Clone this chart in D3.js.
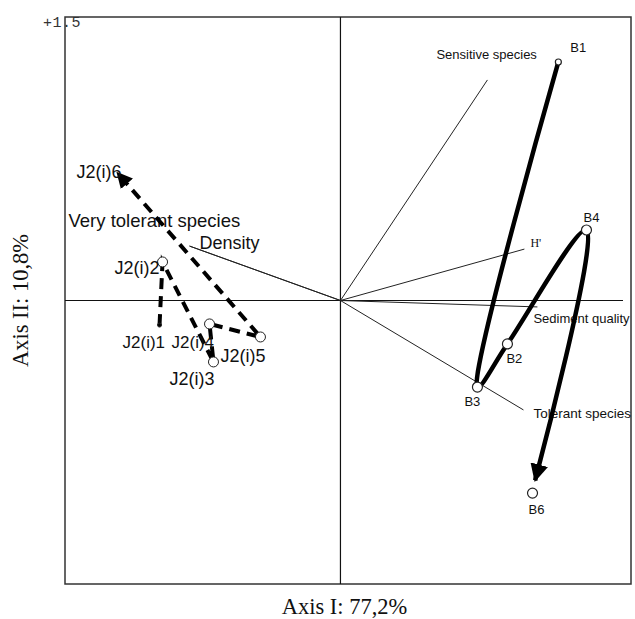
<!DOCTYPE html>
<html><head><meta charset="utf-8">
<script src="https://cdn.jsdelivr.net/npm/d3@7/dist/d3.min.js"></script>
<style>body{margin:0;background:#fff}svg{display:block}</style>
</head><body>
<svg id="c" width="635" height="619"></svg>
<script>
// ---- data ----
const sitesJ = ["J2(i)1","J2(i)2","J2(i)3","J2(i)4","J2(i)5","J2(i)6"];
const jX = [-0.959,-0.943,-0.673,-0.694,-0.424,-1.182];
const jY = [-0.130, 0.204,-0.325,-0.124,-0.193, 0.675];
const sitesB = ["B1","B2","B3","B4","B6"];
const bX = [1.155,0.885,0.726,1.304,1.018];
const bY = [1.262,-0.230,-0.458,0.373,-1.019];
const pathB = ["B1","B3","B2","B4","B6"];
const variables = ["Sensitive species","H'","Sediment quality","Tolerant species","Density","Very tolerant species"];
const varX = [0.779,0.975,1.044,0.970,-0.800,-0.800];
const varY = [1.167,0.272,-0.034,-0.579,0.288,0.288];
const xDomain = [-1.46,1.54];
const yDomain = [-1.5,1.5];
const topTick = "+1.5";
const xTitle = "Axis I: 77,2%";
const yTitle = "Axis II: 10,8%";

// ---- drawing ----
const svg = d3.select("#c");
const x = d3.scaleLinear().domain(xDomain).range([65,631]);
const y = d3.scaleLinear().domain(yDomain).range([584,17]);

svg.append("defs").append("marker").attr("id","ah").attr("viewBox","0 0 10 10")
  .attr("refX",9).attr("refY",5).attr("markerWidth",4).attr("markerHeight",4)
  .attr("markerUnits","strokeWidth").attr("orient","auto")
  .append("path").attr("d","M0,0L10,5L0,10z").attr("fill","#000");

// frame
svg.append("rect").attr("x",x(xDomain[0])).attr("y",y(yDomain[1]))
  .attr("width",x(xDomain[1])-x(xDomain[0])).attr("height",y(yDomain[0])-y(yDomain[1]))
  .attr("fill","none").attr("stroke","#333").attr("stroke-width",1.5);
// axes lines
svg.append("line").attr("x1",x(xDomain[0])).attr("x2",x(xDomain[1])-8).attr("y1",y(0)).attr("y2",y(0))
  .attr("stroke","#111").attr("stroke-width",1.2);
svg.append("line").attr("x1",x(0)).attr("x2",x(0)).attr("y1",y(yDomain[0])).attr("y2",y(yDomain[1]))
  .attr("stroke","#111").attr("stroke-width",1.2);

svg.append("text").attr("x",x(xDomain[0])-3).attr("y",y(yDomain[1])+10).attr("text-anchor","middle")
  .attr("font-family","'Liberation Mono','DejaVu Sans Mono',monospace").attr("font-size",15)
  .attr("letter-spacing",0.5).attr("fill","#333").text(topTick);

// variable vectors
const vars = variables.map((n,i)=>({n,x:varX[i],y:varY[i]}));
svg.selectAll("line.v").data(vars).enter().append("line")
  .attr("x1",x(0)).attr("y1",y(0)).attr("x2",d=>x(d.x)).attr("y2",d=>y(d.y))
  .attr("stroke","#222").attr("stroke-width",1);
const varLab = {
  "Sensitive species":{dx:-51,dy:-21,fs:13,ff:"Arial"},
  "H'":{dx:6,dy:-2,fs:12,ff:"'Liberation Serif',serif"},
  "Sediment quality":{dx:-4,dy:16,fs:13,ff:"Arial"},
  "Tolerant species":{dx:10,dy:8,fs:13.5,ff:"Arial"},
  "Density":{dx:10,dy:3,fs:18,ff:"Arial"},
  "Very tolerant species":{dx:-121,dy:-19,fs:18.5,ff:"Arial"}
};
svg.selectAll("text.v").data(vars).enter().append("text")
  .attr("x",d=>x(d.x)+varLab[d.n].dx).attr("y",d=>y(d.y)+varLab[d.n].dy)
  .attr("font-family",d=>varLab[d.n].ff).attr("font-size",d=>varLab[d.n].fs)
  .attr("fill","#111").text(d=>d.n);

// J trajectory (dashed)
const jp = sitesJ.map((n,i)=>({n,x:jX[i],y:jY[i]}));
svg.append("path").datum(jp)
  .attr("d",d3.line().x(d=>x(d.x)).y(d=>y(d.y)))
  .attr("fill","none").attr("stroke","#000").attr("stroke-width",4)
  .attr("stroke-dasharray","11,7").attr("marker-end","url(#ah)");

// B trajectory (solid, curved)
const bmap = {}; sitesB.forEach((n,i)=>bmap[n]={x:bX[i],y:bY[i]});
const bpts = pathB.map(n=>[x(bmap[n].x),y(bmap[n].y)]);
{
  const a = bpts[bpts.length-2], b = bpts[bpts.length-1];
  const L = Math.hypot(b[0]-a[0],b[1]-a[1]), s = (L-13)/L;
  bpts[bpts.length-1] = [a[0]+(b[0]-a[0])*s, a[1]+(b[1]-a[1])*s];
}
svg.append("path").datum(bpts)
  .attr("d",d3.line().curve(d3.curveCatmullRom.alpha(0.5)))
  .attr("fill","none").attr("stroke","#000").attr("stroke-width",4.5)
  .attr("marker-end","url(#ah)");

// site points
const jr = {"J2(i)1":2,"J2(i)6":0};
svg.selectAll("circle.j").data(jp.filter(d=>jr[d.n]!==0)).enter().append("circle")
  .attr("cx",d=>x(d.x)).attr("cy",d=>y(d.y)).attr("r",d=>jr[d.n]||5)
  .attr("fill",d=>jr[d.n]?"#000":"#fff").attr("stroke","#222").attr("stroke-width",1);
const bp = sitesB.map(n=>({n,...bmap[n]}));
svg.selectAll("circle.b").data(bp).enter().append("circle")
  .attr("cx",d=>x(d.x)).attr("cy",d=>y(d.y)).attr("r",d=>d.n==="B1"?3:5)
  .attr("fill","#fff").attr("stroke","#222").attr("stroke-width",1.2);

const jLab = {"J2(i)1":[-37,23],"J2(i)2":[-48,12],"J2(i)3":[-44,23],"J2(i)4":[-38,24],"J2(i)5":[-40,25],"J2(i)6":[-41,5]};
svg.selectAll("text.j").data(jp).enter().append("text")
  .attr("x",d=>x(d.x)+jLab[d.n][0]).attr("y",d=>y(d.y)+jLab[d.n][1])
  .attr("font-family","Arial").attr("font-size",d=>(d.n==="J2(i)1"||d.n==="J2(i)4")?17:18)
  .attr("fill","#111").text(d=>d.n);
const bLab = {"B1":[12,-10],"B2":[-1,19],"B3":[-13,19],"B4":[-3,-8],"B6":[-4,21]};
svg.selectAll("text.b").data(bp).enter().append("text")
  .attr("x",d=>x(d.x)+bLab[d.n][0]).attr("y",d=>y(d.y)+bLab[d.n][1])
  .attr("font-family","Arial").attr("font-size",13).attr("fill","#111").text(d=>d.n);

// titles
svg.append("text").attr("x",x(0)+4).attr("y",614).attr("text-anchor","middle")
  .attr("font-family","'Liberation Serif','Times New Roman',serif").attr("font-size",22.5).attr("fill","#111").text(xTitle);
svg.append("text").attr("transform",`translate(28,${y(0)}) rotate(-90)`).attr("text-anchor","middle")
  .attr("font-family","'Liberation Serif','Times New Roman',serif").attr("font-size",22.5).attr("fill","#111").text(yTitle);
</script>
</body></html>
